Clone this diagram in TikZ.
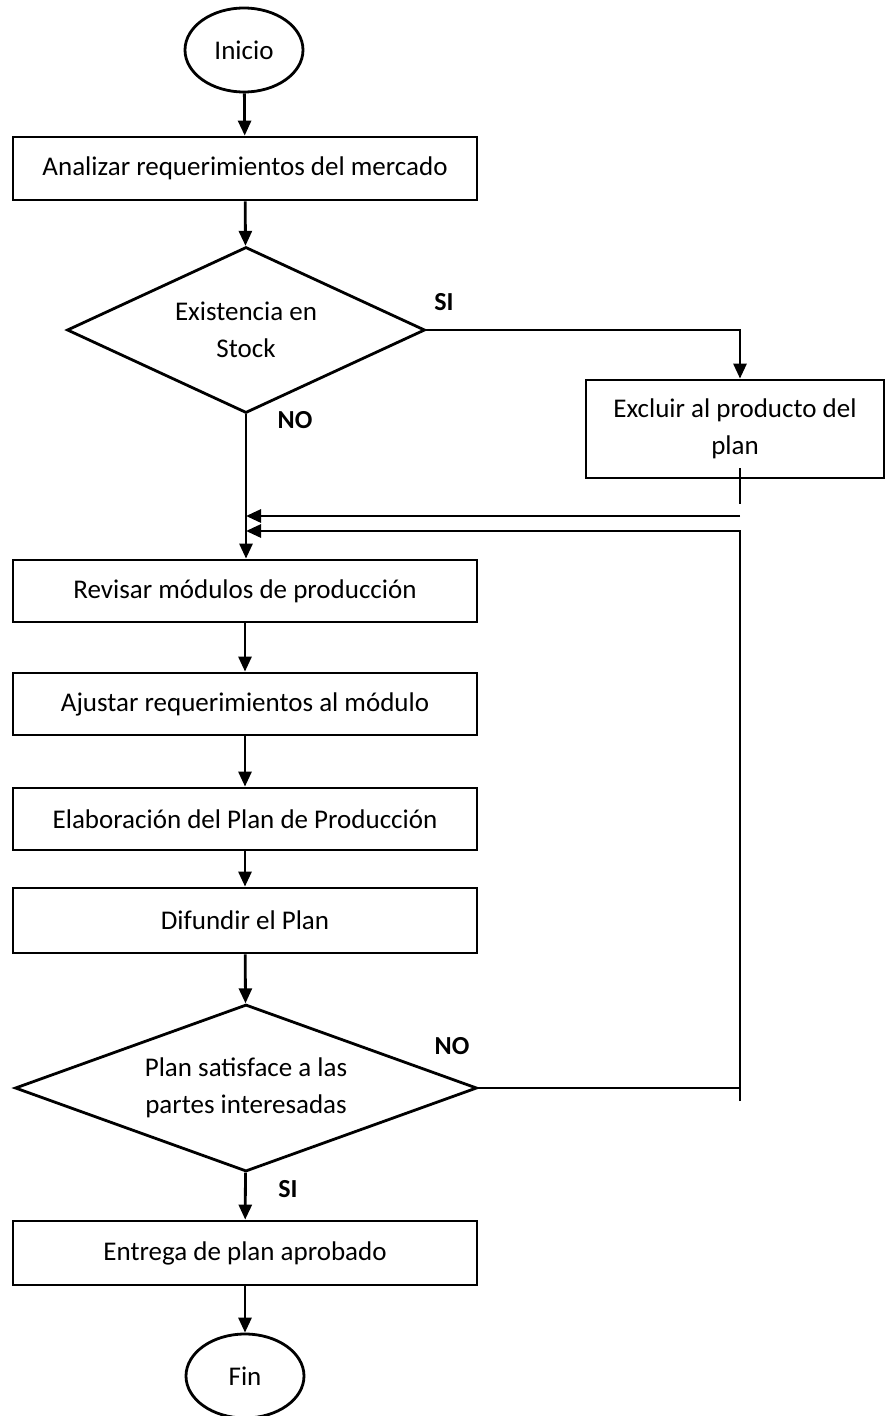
\documentclass[tikz,border=0pt]{standalone}
\usepackage{fontspec}
\setmainfont{Carlito}
\usetikzlibrary{shapes.geometric,arrows.meta}
\begin{document}
\begin{tikzpicture}[x=1pt,y=-1pt,
  every node/.style={font=\fontsize{27}{37}\selectfont},
  proc/.style={draw,line width=2.8pt,rectangle,minimum width=464pt,minimum height=63pt,inner sep=0pt,align=center},
  term/.style={draw,line width=2.8pt,ellipse,minimum width=118pt,minimum height=84pt,inner sep=0pt},
  dec/.style={draw,line width=2.8pt,diamond,aspect=2.2,inner sep=0pt,align=center},
  flow/.style={line width=2.8pt,-{Triangle[length=15pt,width=13pt]}},
  wire/.style={line width=2.8pt},
  lbl/.style={font=\fontsize{26}{28}\selectfont\bfseries}
]
\useasboundingbox (0,0) rectangle (886,1416);

% process chain
\node[term] (ini) at (244,50) {Inicio};
\node[proc] (b1) at (245,168.5) {Analizar requerimientos del mercado};
\node[dec,minimum width=358pt,minimum height=166pt] (d1) at (246,330) {Existencia en\\Stock};
\node[proc,minimum width=298pt,minimum height=98pt] (b2) at (735,429) {Excluir al producto del\\plan};
\node[proc,minimum height=62pt] (b3) at (245,591) {Revisar módulos de producción};
\node[proc,minimum height=62pt] (b4) at (245,704) {Ajustar requerimientos al módulo};
\node[proc,minimum height=62pt] (b5) at (245,819) {Elaboración del Plan de Producción};
\node[proc,minimum height=65pt] (b6) at (245,920.5) {Difundir el Plan};
\node[dec,minimum width=462pt,minimum height=167pt] (d2) at (246,1088) {Plan satisface a las\\partes interesadas};
\node[proc,minimum height=64pt] (b7) at (245,1253) {Entrega de plan aprobado};
\node[term] (fin) at (245,1376) {Fin};

% branch labels
\node[lbl] (si1) at (444,302) {SI};
\node[lbl] (no1) at (295,420) {NO};
\node[lbl] (no2) at (452,1046) {NO};
\node[lbl] (si2) at (288,1189) {SI};

% return points on the right
\coordinate (bx) at ([xshift=5pt]b2.north);
\coordinate (t1) at (740,468);
\coordinate (t2) at (740,504);
\coordinate (r1) at (740,516);
\coordinate (r2) at (740,531);
\coordinate (r3) at (740,1088);
\coordinate (r4) at (740,1101);

% connectors
\draw[flow] (ini) -- (b1);
\draw[flow] (b1) -- (d1);
\draw[flow] (d1.east) -| (bx);
\draw[flow] (d1.south) -- (d1.south |- b3.north);
\draw[flow] (b3) -- (b4);
\draw[flow] (b4) -- (b5);
\draw[flow] (b5) -- (b6);
\draw[flow] (b6) -- (d2);
\draw[flow] (d2) -- (b7);
\draw[flow] (b7) -- (fin);
\draw[wire] (t1) -- (t2);
\draw[flow] (r1) -- (d1.south |- r1);
\draw[wire] (d2.east) -- (r3);
\draw[flow] (r4) -- (r2) -- (d1.south |- r2);
\end{tikzpicture}
\end{document}
